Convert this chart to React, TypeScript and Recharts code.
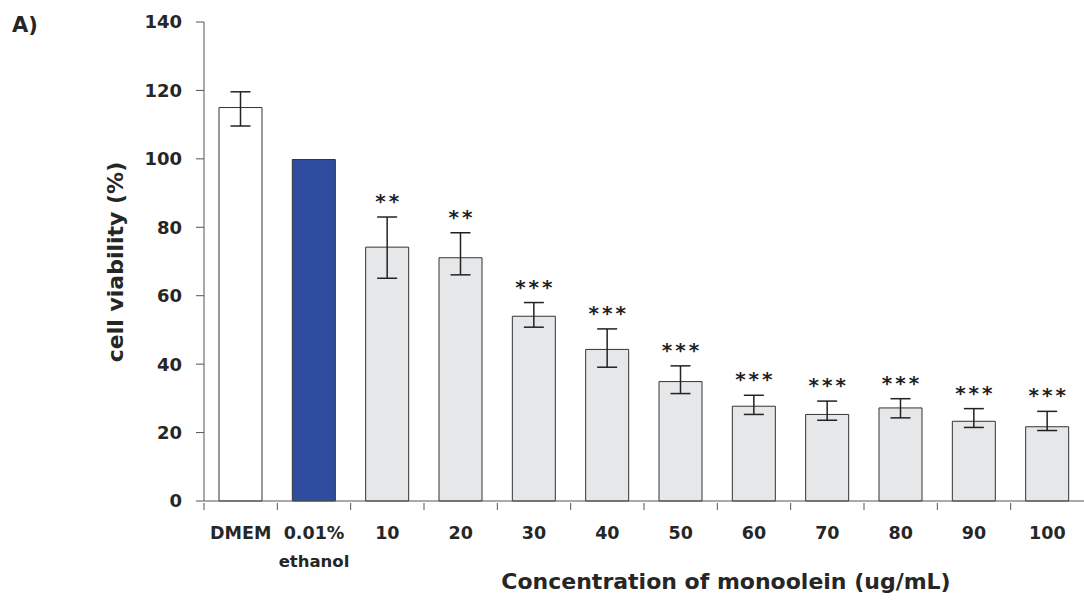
import React from 'react';
import { BarChart, Bar, XAxis, YAxis, ErrorBar, Cell, LabelList, Label } from 'recharts';

const categories = ['DMEM', '0.01%\nethanol', '10', '20', '30', '40', '50', '60', '70', '80', '90', '100'];
const viability = [115, 99.8, 74.2, 71.1, 54.0, 44.3, 34.9, 27.7, 25.3, 27.2, 23.3, 21.7];
const errLow = [5.4, null, 9.1, 5.0, 3.2, 5.2, 3.5, 2.4, 1.7, 2.9, 1.8, 1.1];
const errHigh = [4.6, null, 8.8, 7.3, 4.0, 6.0, 4.6, 3.2, 3.9, 2.7, 3.7, 4.5];
const significance = ['', '', '**', '**', '***', '***', '***', '***', '***', '***', '***', '***'];
const barColors = ['#ffffff', '#2e4d9f', '#e6e7e8', '#e6e7e8', '#e6e7e8', '#e6e7e8', '#e6e7e8', '#e6e7e8', '#e6e7e8', '#e6e7e8', '#e6e7e8', '#e6e7e8'];
const yTicks = [0, 20, 40, 60, 80, 100, 120, 140];

const WIDTH = 1084;
const HEIGHT = 601;
const Y_AXIS_W = 204;
const BAND = (WIDTH - Y_AXIS_W) / categories.length;
const FONT = '"DejaVu Sans", Verdana, sans-serif';
const AXIS = '#555';
const TEXT = '#262626';

const data = categories.map((name, i) => ({
  name,
  viability: viability[i],
  err: errLow[i] == null ? null : [errLow[i], errHigh[i]],
}));

const CategoryTick = (props: any) => {
  const { x, y, payload } = props;
  const lines = String(payload.value).split('\n');
  const left = x - BAND / 2;
  return (
    <g>
      <line x1={left} x2={left} y1={y} y2={y + 7} stroke={AXIS} strokeWidth={1} />
      <text x={x} y={y + 36} textAnchor="middle" fontFamily={FONT} fontWeight="bold" fontSize={17.5} fill={TEXT}>
        {lines[0]}
      </text>
      {lines[1] && (
        <text x={x} y={y + 64} textAnchor="middle" fontFamily={FONT} fontWeight="bold" fontSize={16.5} fill={TEXT}>
          {lines[1]}
        </text>
      )}
    </g>
  );
};

const renderStars = (props: any) => {
  const { x, y, width, height, index, value } = props;
  const sig = significance[index];
  if (!sig || !value) return null;
  const pxPerUnit = height / value;
  const top = y - (errHigh[index] || 0) * pxPerUnit;
  return (
    <text
      x={x + width / 2 + 1.5}
      y={top - 9}
      textAnchor="middle"
      fontFamily={FONT}
      fontWeight="bold"
      fontSize={20}
      letterSpacing={3}
      fill="#222"
    >
      {sig}
    </text>
  );
};

export default function App() {
  return (
    <div style={{ position: 'absolute', left: 0, top: 0, width: WIDTH, height: HEIGHT, background: '#fff' }}>
      <svg style={{ position: 'absolute', left: 0, top: 0 }} width={60} height={40}>
        <text x={12} y={32} fontFamily={FONT} fontWeight="bold" fontSize={21} fill={TEXT}>
          A)
        </text>
      </svg>
      <BarChart width={WIDTH} height={HEIGHT} data={data} margin={{ top: 22, right: 0, bottom: 0, left: 0 }} barSize={43}>
        <XAxis
          dataKey="name"
          height={100}
          interval={0}
          tickSize={0}
          tickLine={false}
          tick={<CategoryTick />}
          axisLine={{ stroke: AXIS, strokeWidth: 1 }}
        >
          <Label
            content={(p: any) => {
              const vb = p.viewBox;
              return (
                <text
                  x={vb.x + vb.width / 2 + 82}
                  y={vb.y + 88}
                  textAnchor="middle"
                  fontFamily={FONT}
                  fontWeight="bold"
                  fontSize={22}
                  fill={TEXT}
                >
                  Concentration of monoolein (ug/mL)
                </text>
              );
            }}
          />
        </XAxis>
        <YAxis
          width={Y_AXIS_W}
          domain={[0, 140]}
          ticks={yTicks}
          interval={0}
          tickSize={8}
          tickMargin={14}
          axisLine={{ stroke: AXIS, strokeWidth: 1 }}
          tickLine={{ stroke: AXIS, strokeWidth: 1 }}
          tick={{ fontFamily: FONT, fontWeight: 'bold', fontSize: 18, fill: TEXT }}
        >
          <Label
            content={() => {
              const cx = 115;
              const cy = 262;
              return (
                <text
                  x={cx}
                  y={cy}
                  transform={`rotate(-90, ${cx}, ${cy})`}
                  textAnchor="middle"
                  dominantBaseline="central"
                  fontFamily={FONT}
                  fontWeight="bold"
                  fontSize={22}
                  fill={TEXT}
                >
                  cell viability (%)
                </text>
              );
            }}
          />
        </YAxis>
        <Bar dataKey="viability" stroke="#333" strokeWidth={1} isAnimationActive={false}>
          {data.map((d, i) => (
            <Cell key={d.name} fill={barColors[i]} />
          ))}
          <ErrorBar dataKey="err" width={10} stroke="#222" strokeWidth={1.5} isAnimationActive={false} />
          <LabelList dataKey="viability" content={renderStars} />
        </Bar>
      </BarChart>
    </div>
  );
}
